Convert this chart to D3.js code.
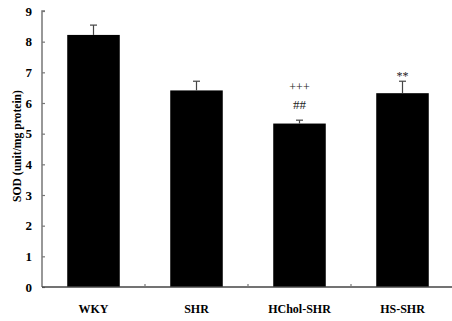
<!DOCTYPE html>
<html><head><meta charset="utf-8">
<script src="https://cdn.jsdelivr.net/npm/d3@7/dist/d3.min.js"></script>
<style>body{margin:0;background:#fff}svg{display:block}</style>
</head><body>
<script>
const categories = ["WKY", "SHR", "HChol-SHR", "HS-SHR"];
const values = [8.22, 6.41, 5.33, 6.32];
const errors = [0.32, 0.30, 0.11, 0.39];
const annotations = [[], [], ["+++", "##"], ["**"]];
const yTicks = [0,1,2,3,4,5,6,7,8,9];

const W = 452, H = 321;
const svg = d3.select("body").append("svg").attr("width", W).attr("height", H);
const x0 = 42, x1 = 454, yTop = 11, yBot = 287;
const x = d3.scaleBand().domain(categories).range([x0, x1]).paddingInner(0.49).paddingOuter(0.245);
const y = d3.scaleLinear().domain([0, 9]).range([yBot, yTop]);
const font = "'Liberation Serif','Times New Roman',serif";
const axisColor = "#777";

// bars
svg.selectAll("rect.bar").data(categories).enter().append("rect")
  .attr("x", d => x(d)).attr("width", x.bandwidth())
  .attr("y", (d,i) => y(values[i])).attr("height", (d,i) => yBot - y(values[i]))
  .attr("fill", "#000");

// error bars
const eg = svg.append("g").attr("stroke", "#444").attr("stroke-width", 1.2);
categories.forEach((c,i) => {
  const cx = x(c) + x.bandwidth()/2;
  eg.append("line").attr("x1", cx).attr("x2", cx).attr("y1", y(values[i])).attr("y2", y(values[i]+errors[i]));
  eg.append("line").attr("x1", cx-3.5).attr("x2", cx+3.5).attr("y1", y(values[i]+errors[i])).attr("y2", y(values[i]+errors[i]));
});

// annotations
categories.forEach((c,i) => {
  const cx = x(c) + x.bandwidth()/2;
  const top = y(values[i]+errors[i]);
  const ann = annotations[i];
  const n = ann.length;
  ann.forEach((t, j) => {
    const fromBottom = n - 1 - j;
    const base = t.includes("*") ? top - 1 : top - 11;
    svg.append("text").attr("x", cx).attr("y", base - fromBottom * 18)
      .attr("text-anchor", "middle").attr("font-family", font)
      .attr("font-size", t.includes("#") ? 13 : 12)
      .attr("fill", "#222").text(t);
  });
});

// y axis
const ya = svg.append("g").attr("transform", `translate(${x0},0)`)
  .call(d3.axisRight(y).tickValues(yTicks).tickSize(3).tickFormat(d3.format("d")));
ya.select(".domain").attr("stroke", axisColor).attr("stroke-width", 1.5).attr("d", `M3,${yTop}H0V${yBot}`);
ya.selectAll(".tick line").attr("stroke", axisColor).attr("stroke-width", 1.2);
ya.selectAll(".tick text").attr("x", -10).attr("text-anchor", "end")
  .attr("font-family", font).attr("font-weight", "bold").attr("font-size", 13).attr("fill", "#000");

// x axis
const xa = svg.append("g").attr("transform", `translate(0,${yBot})`)
  .call(d3.axisBottom(x).tickSize(0));
xa.select(".domain").attr("stroke", "#444").attr("stroke-width", 1.5).attr("d", `M${x0},0H${x1}`);
xa.selectAll(".tick text").attr("y", 17).attr("dy", "0.71em")
  .attr("font-family", font).attr("font-weight", "bold").attr("font-size", 12).attr("fill", "#000");
// category separators
[1,2,3].forEach(k => {
  const sx = x0 + (x1 - x0) * k / categories.length;
  svg.append("line").attr("x1", sx).attr("x2", sx).attr("y1", yBot).attr("y2", yBot-3)
    .attr("stroke", axisColor).attr("stroke-width", 1.2);
});

// y label
svg.append("text").attr("transform", `translate(21,146) rotate(-90)`)
  .attr("text-anchor", "middle").attr("font-family", font).attr("font-weight", "bold")
  .attr("font-size", 11.6).text("SOD (unit/mg protein)");
</script>
</body></html>
